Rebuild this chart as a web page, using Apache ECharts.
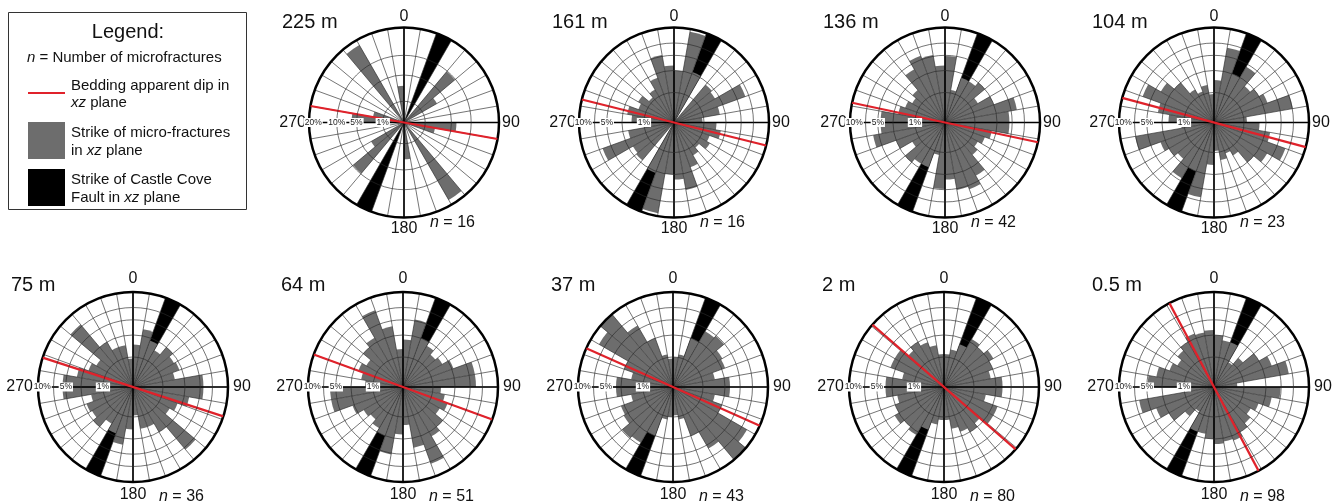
<!DOCTYPE html>
<html><head><meta charset="utf-8">
<script src="https://cdn.jsdelivr.net/npm/echarts@6/dist/echarts.min.js"></script>
<style>html,body{margin:0;padding:0;background:#fff}#c{width:1338px;height:502px}</style>
</head><body><div id="c"></div>
<script>
// ---------- data ----------
const sites = ['225 m', '161 m', '136 m', '104 m', '75 m', '64 m', '37 m', '2 m', '0.5 m'];
const counts = [16, 16, 42, 23, 36, 51, 43, 80, 98];
const scaleMaxPct = [20, 10, 10, 10, 10, 10, 10, 10, 10];
const beddingDipAz = [100, 104, 102, 105, 108, 110, 114, 131, 152];
const faultStrikeBin = [20, 20, 20, 20, 20, 20, 20, 20, 20];
const binStarts = [0,10,20,30,40,50,60,70,80,90,100,110,120,130,140,150,160,170,
                   180,190,200,210,220,230,240,250,260,270,280,290,300,310,320,330,340,350];
// percent of microfractures per 10-degree strike bin (0-10 ... 170-180), plotted bidirectionally
const rose225 = [0, 0, 0, 0, 9.8, 3.2, 0, 0, 0, 6.1, 2.2, 0, 0, 0, 17.7, 0, 0, 3.0];
const rose161 = [3.0, 9.4, 3.2, 0, 2.7, 2.5, 6.4, 2.4, 0.9, 2.0, 2.5, 1.6, 1.9, 1.2, 1.6, 2.5, 5.2, 3.6];
const rose136 = [4.9, 1.2, 2.5, 2.5, 3.0, 1.6, 3.0, 5.9, 4.6, 4.6, 2.5, 2.0, 1.6, 2.0, 4.2, 5.6, 5.2, 3.6];
const rose104 = [2.0, 6.4, 3.0, 4.6, 2.5, 3.0, 3.6, 7.1, 1.2, 2.3, 3.6, 6.4, 4.2, 3.0, 1.6, 1.2, 1.6, 0.9];
const rose75  = [2.0, 3.8, 2.7, 2.0, 3.0, 2.5, 2.7, 2.0, 5.5, 5.5, 3.6, 2.5, 2.0, 7.4, 3.0, 2.0, 2.0, 0.9];
const rose64  = [2.5, 5.2, 3.0, 2.5, 2.0, 2.3, 3.2, 5.9, 5.9, 1.6, 2.0, 2.5, 2.0, 3.0, 3.6, 7.4, 4.2, 1.6];
const rose37  = [1.0, 1.2, 3.0, 4.6, 4.9, 3.6, 3.4, 2.0, 3.6, 3.6, 2.0, 3.0, 8.1, 10.4, 5.6, 3.0, 1.2, 0.9];
const rose2   = [1.2, 1.6, 2.3, 3.4, 3.0, 3.6, 3.0, 2.5, 3.8, 3.8, 2.0, 3.6, 3.6, 2.5, 3.0, 2.5, 2.0, 1.2];
const rose05  = [3.0, 2.5, 2.5, 0.9, 1.6, 3.0, 4.2, 6.4, 0.6, 4.9, 3.8, 2.5, 2.0, 2.5, 3.0, 3.6, 3.4, 3.6];
const roses = [rose225, rose161, rose136, rose104, rose75, rose64, rose37, rose2, rose05];
const ringPct10 = [1, 3, 5, 7];
const ringPct20 = [1, 5, 10];
const ringLabels10 = [10, 5, 1];
const ringLabels20 = [20, 10, 5, 1];

// ---------- layout / style ----------
const FONT = '"Liberation Sans", Arial, Helvetica, sans-serif';
const R = 95;
const centers = [[404,122.5],[674,122.5],[945,122.5],[1214,122.5],
                 [133,387],[403,387],[673,387],[944,387],[1214,387]];
const GRAY = '#6d6d6d';

const polar = [], angleAxis = [], radiusAxis = [], series = [], title = [];

sites.forEach((name, k) => {
  const [cx, cy] = centers[k];
  const bottomRow = k >= 4;
  const mx = scaleMaxPct[k];
  const rMax = Math.sqrt(mx);
  const bp = 2 * k, gp = 2 * k + 1;
  polar.push({ center: [cx, cy], radius: R }, { center: [cx, cy], radius: R });

  // bar polar (category sectors)
  angleAxis.push({ polarIndex: bp, type: 'category', data: binStarts.map(String), startAngle: 90,
    clockwise: true, boundaryGap: true, axisLine: { show: false }, axisTick: { show: false },
    axisLabel: { show: false }, splitLine: { show: false }, z: 1 });
  radiusAxis.push({ polarIndex: bp, type: 'value', min: 0, max: rMax, axisLine: { show: false },
    axisTick: { show: false }, axisLabel: { show: false }, splitLine: { show: false }, z: 1 });

  // grid polar
  const lab = { '-90': '270', '0': '0', '90': '90', '180': '180' };
  angleAxis.push({ polarIndex: gp, type: 'value', min: -90, max: 270, interval: 10, startAngle: 180,
    clockwise: true, z: 3,
    axisLine: { show: true, lineStyle: { color: '#000', width: 2.5 } },
    axisTick: { show: false },
    splitLine: { show: true, lineStyle: { color: '#2a2a2a', width: 0.65 } },
    axisLabel: { margin: bottomRow ? 5 : 3, fontSize: 16, color: '#111', fontFamily: FONT,
      formatter: v => lab[String(v)] || '' } });
  const rings = mx === 20 ? ringPct20 : ringPct10;
  const labs = mx === 20 ? ringLabels20 : ringLabels10;
  const labPos = labs.map(p => p === mx ? Math.sqrt(p) * 0.955 : Math.sqrt(p));
  radiusAxis.push({ polarIndex: gp, type: 'value', min: 0, max: rMax, z: 6,
    axisLine: { show: false },
    axisTick: { show: false, customValues: rings.map(Math.sqrt) },
    splitLine: { show: true, lineStyle: { color: '#2a2a2a', width: 0.65 } },
    axisLabel: { customValues: labPos, margin: 0, align: 'center', verticalAlign: 'middle',
      fontSize: 8.5, color: '#222', fontFamily: FONT, backgroundColor: '#fff', padding: [0, 1],
      formatter: v => { let best = 0; labPos.forEach((p, i) => { if (Math.abs(p - v) < Math.abs(labPos[best] - v)) best = i; }); return labs[best] + '%'; } } });

  const vals = roses[k];
  const gray36 = binStarts.map((b, i) => Math.sqrt(vals[i % 18]));
  const fault36 = binStarts.map(b => (b % 180 === faultStrikeBin[k]) ? rMax : 0);
  series.push({ type: 'bar', coordinateSystem: 'polar', polarIndex: bp, data: fault36,
    barCategoryGap: '0%', barGap: '-100%', itemStyle: { color: '#000' }, z: 1, silent: true });
  series.push({ type: 'bar', coordinateSystem: 'polar', polarIndex: bp, data: gray36,
    barCategoryGap: '0%', barGap: '-100%', itemStyle: { color: GRAY }, z: 2, silent: true });
  series.push({ type: 'line', coordinateSystem: 'polar', polarIndex: gp, data: [[rMax, 0], [rMax, 180]],
    symbol: 'none', lineStyle: { color: '#000', width: 1.6 }, z: 4, silent: true });
  series.push({ type: 'line', coordinateSystem: 'polar', polarIndex: gp, data: [[rMax, 90], [rMax, -90]],
    symbol: 'none', lineStyle: { color: '#000', width: 1.6 }, z: 4, silent: true });
  const d = beddingDipAz[k];
  series.push({ type: 'line', coordinateSystem: 'polar', polarIndex: gp, data: [[rMax, d], [rMax, d - 180]],
    symbol: 'none', lineStyle: { color: '#e0222b', width: 2.2 }, z: 5, silent: true });

  title.push({ text: name, left: cx - 122, top: bottomRow ? 275.5 : 12.5, padding: 0,
    textStyle: { fontSize: 20, fontWeight: 'normal', color: '#111', fontFamily: FONT } });
  title.push({ text: '{i|n} = ' + counts[k], left: cx + 26, top: bottomRow ? 489 : 215, padding: 0,
    textStyle: { fontSize: 16, fontWeight: 'normal', color: '#111', fontFamily: FONT,
      rich: { i: { fontStyle: 'italic', fontSize: 16, fontFamily: FONT, color: '#111' } } } });
});

const t = (x, y, text, size) => ({ type: 'text', x, y, z: 10, style: { text, fill: '#111',
  font: size + 'px ' + FONT, textVerticalAlign: 'middle',
  rich: { i: { fontStyle: 'italic', fontSize: size, fontFamily: FONT, fill: '#111' } } } });

const graphic = [
  { type: 'rect', z: 9, shape: { x: 8.5, y: 12.5, width: 238, height: 197 }, style: { fill: '#fff', stroke: '#333', lineWidth: 1 } },
  { type: 'text', x: 128, y: 32, z: 10, style: { text: 'Legend:', fill: '#111', font: '20px ' + FONT, textAlign: 'center', textVerticalAlign: 'middle' } },
  t(27, 58, '{i|n} = Number of microfractures', 15),
  { type: 'line', z: 10, shape: { x1: 28, y1: 93, x2: 65, y2: 93 }, style: { stroke: '#e0222b', lineWidth: 2 } },
  t(71, 86, 'Bedding apparent dip in', 15),
  t(71, 103, '{i|xz} plane', 15),
  { type: 'rect', z: 10, shape: { x: 28, y: 122, width: 37, height: 37 }, style: { fill: GRAY } },
  t(71, 133, 'Strike of micro-fractures', 15),
  t(71, 151, 'in {i|xz} plane', 15),
  { type: 'rect', z: 10, shape: { x: 28, y: 169, width: 37, height: 37 }, style: { fill: '#000' } },
  t(71, 180, 'Strike of Castle Cove', 15),
  t(71, 198, 'Fault in {i|xz} plane', 15)
];

const chart = echarts.init(document.getElementById('c'), null, { renderer: 'canvas' });
chart.setOption({ animation: false, backgroundColor: '#fff', polar, angleAxis, radiusAxis, series, title, graphic });
</script></body></html>
